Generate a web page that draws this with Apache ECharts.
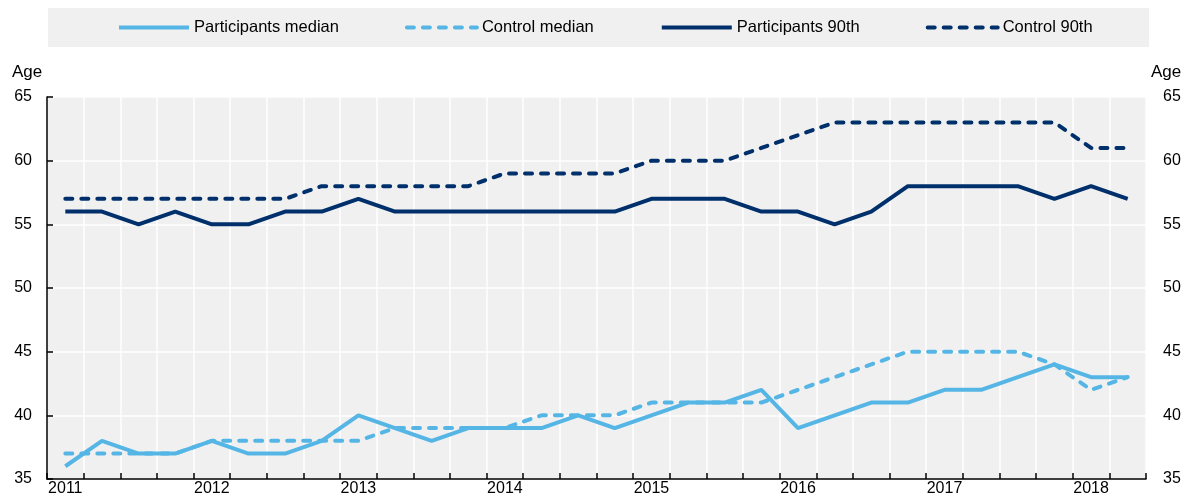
<!DOCTYPE html>
<html>
<head>
<meta charset="utf-8">
<title>Age of participants and control group</title>
<script src="https://cdn.jsdelivr.net/npm/echarts@6/dist/echarts.min.js"></script>
<style>
  html, body { margin: 0; padding: 0; background: #fff; }
  #chart { width: 1188px; height: 504px; }
</style>
</head>
<body>
<div id="chart"></div>
<script>
// quarters 2011Q1 .. 2018Q2
var years = ["2011", "2012", "2013", "2014", "2015", "2016", "2017", "2018"];
var quarters = [];
years.forEach(function (y) {
  ["Q1", "Q2", "Q3", "Q4"].forEach(function (q) {
    if (quarters.length < 30) quarters.push(y + " " + q);
  });
});

var participantsMedian = [36, 38, 37, 37, 38, 37, 37, 38, 40, 39, 38, 39, 39, 39, 40,
                          39, 40, 41, 41, 42, 39, 40, 41, 41, 42, 42, 43, 44, 43, 43];
var controlMedian = [37, 37, 37, 37, 38, 38, 38, 38, 38, 39, 39, 39, 39, 40, 40,
                     40, 41, 41, 41, 41, 42, 43, 44, 45, 45, 45, 45, 44, 42, 43];
var participants90 = [56, 56, 55, 56, 55, 55, 56, 56, 57, 56, 56, 56, 56, 56, 56,
                      56, 57, 57, 57, 56, 56, 55, 56, 58, 58, 58, 58, 57, 58, 57];
var control90 = [57, 57, 57, 57, 57, 57, 57, 58, 58, 58, 58, 58, 59, 59, 59,
                 59, 60, 60, 60, 61, 62, 63, 63, 63, 63, 63, 63, 63, 61, 61];

var lightBlue = "#55b6e6";
var darkBlue = "#00306c";
var font = "'Liberation Sans', Arial, sans-serif";

var chart = echarts.init(document.getElementById("chart"));

function lineSeries(name, data, color, dashed) {
  return {
    name: name,
    type: "line",
    data: data,
    showSymbol: false,
    symbol: "none",
    smooth: false,
    color: color,
    lineStyle: {
      color: color,
      width: 4,
      type: dashed ? [7, 9] : "solid",
      cap: dashed ? "round" : "butt"
    },
    emphasis: { disabled: true }
  };
}

var option = {
  animation: false,
  textStyle: { fontFamily: font },
  graphic: [
    {
      type: "rect",
      z: 0,
      shape: { x: 48, y: 8, width: 1101, height: 39 },
      style: { fill: "#f0f0f0" }
    },
    {
      type: "text",
      left: 12,
      top: 64,
      style: { text: "Age", fontSize: 17, fill: "#000", fontFamily: font }
    },
    {
      type: "text",
      left: 1151,
      top: 64,
      style: { text: "Age", fontSize: 17, fill: "#000", fontFamily: font }
    }
  ],
  legend: {
    top: 19,
    left: 117,
    padding: 0,
    itemWidth: 70,
    itemHeight: 14,
    itemGap: 66,
    z: 5,
    itemStyle: { opacity: 0 },
    lineStyle: { width: 4 },
    textStyle: {
      fontFamily: font,
      fontSize: 16.5,
      color: "#000"
    },
    data: ["Participants median", "Control median", "Participants 90th", "Control 90th"]
  },
  grid: {
    left: 47,
    right: 42,
    top: 97,
    bottom: 25,
    show: true,
    backgroundColor: "#f0f0f0",
    borderWidth: 0
  },
  xAxis: {
    type: "category",
    data: quarters,
    boundaryGap: true,
    axisLine: { show: true, lineStyle: { color: "#000", width: 1.5 } },
    axisTick: { show: true, inside: true, interval: 0, length: 6, lineStyle: { color: "#000", width: 1.5 } },
    splitLine: { show: true, interval: 0, lineStyle: { color: "#fff", width: 1.5 } },
    axisLabel: {
      interval: 3,
      margin: 2,
      fontSize: 16,
      color: "#000",
      formatter: function (v) { return v.slice(0, 4); }
    }
  },
  yAxis: [
    {
      type: "value",
      min: 35,
      max: 65,
      interval: 5,
      position: "left",
      axisLine: { show: true, lineStyle: { color: "#000", width: 1.5 } },
      axisTick: { show: true, inside: true, length: 6, lineStyle: { color: "#000", width: 1.5 } },
      splitLine: { show: true, lineStyle: { color: "#fff", width: 1.5 } },
      axisLabel: { fontSize: 16, color: "#000", margin: 15 }
    },
    {
      type: "value",
      min: 35,
      max: 65,
      interval: 5,
      position: "right",
      axisLine: { show: false },
      axisTick: { show: false },
      splitLine: { show: false },
      axisLabel: { fontSize: 16, color: "#000", margin: 17 }
    }
  ],
  series: [
    lineSeries("Participants median", participantsMedian, lightBlue, false),
    lineSeries("Control median", controlMedian, lightBlue, true),
    lineSeries("Participants 90th", participants90, darkBlue, false),
    lineSeries("Control 90th", control90, darkBlue, true)
  ]
};

chart.setOption(option);
</script>
</body>
</html>
